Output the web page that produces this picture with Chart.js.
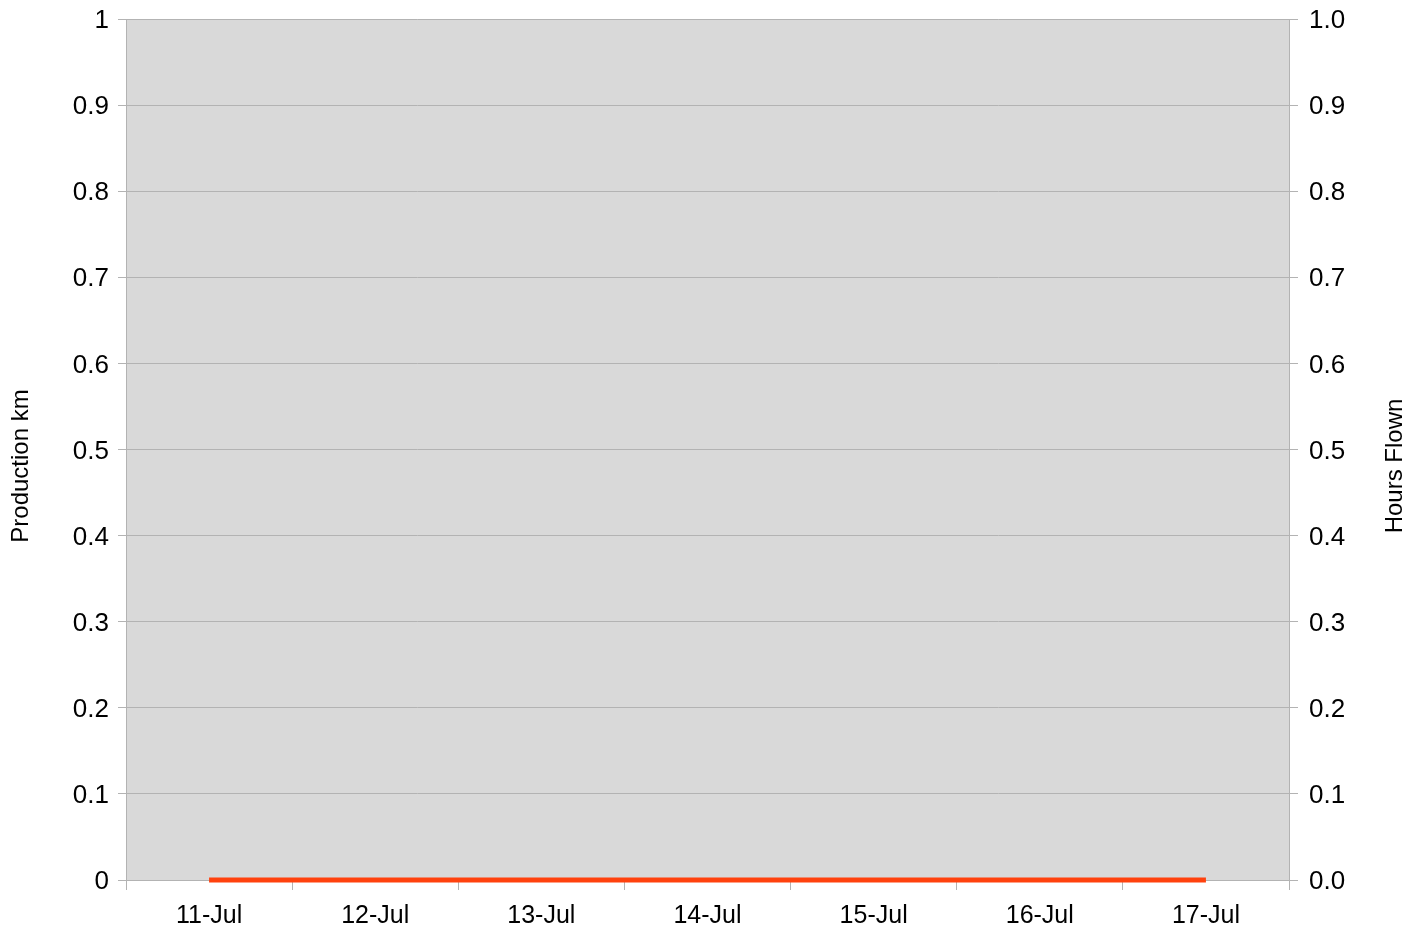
<!DOCTYPE html>
<html>
<head>
<meta charset="utf-8">
<script src="https://cdn.jsdelivr.net/npm/chart.js@4/dist/chart.umd.min.js"></script>
<style>
  html, body { margin: 0; padding: 0; background: #ffffff; }
  #wrap { width: 1424px; height: 928px; position: relative; }
</style>
</head>
<body>
<div id="wrap"><canvas id="chart"></canvas></div>
<script>
// Daily figures for the week
const days = ['11-Jul', '12-Jul', '13-Jul', '14-Jul', '15-Jul', '16-Jul', '17-Jul'];
const productionKm = [0, 0, 0, 0, 0, 0, 0];
const hoursFlown = [0, 0, 0, 0, 0, 0, 0];
const axisTicks = [0, 0.1, 0.2, 0.3, 0.4, 0.5, 0.6, 0.7, 0.8, 0.9, 1];
const leftTitle = 'Production km';
const rightTitle = 'Hours Flown';

const FONT = "'Liberation Sans', Arial, sans-serif";
const GRID = '#b3b3b3';

// Grey plot-area background
const plotBackground = {
  id: 'plotBackground',
  beforeDraw(chart) {
    const { ctx, chartArea: a } = chart;
    ctx.save();
    ctx.fillStyle = '#d9d9d9';
    ctx.fillRect(a.left, a.top, a.right - a.left, a.bottom - a.top);
    ctx.restore();
  }
};

// Both axis titles read bottom-to-top, centred on the canvas height
const axisTitles = {
  id: 'axisTitles',
  afterDraw(chart) {
    const { ctx, height } = chart;
    const yMid = height / 2 + 2;
    ctx.save();
    ctx.fillStyle = '#000';
    ctx.font = '24px ' + FONT;
    ctx.textAlign = 'center';
    ctx.textBaseline = 'middle';
    [[21, leftTitle], [1395, rightTitle]].forEach(([x, text]) => {
      ctx.save();
      ctx.translate(x, yMid);
      ctx.rotate(-Math.PI / 2);
      ctx.fillText(text, 0, 0);
      ctx.restore();
    });
    ctx.restore();
  }
};

// Fixed box sizes for the value axes, without extra label overhang padding
function fitValueAxis(width) {
  return s => {
    s.width = width;
    s.paddingTop = 0;
    s.paddingBottom = 0;
  };
}

new Chart(document.getElementById('chart'), {
  data: {
    labels: days,
    datasets: [
      {
        type: 'bar',
        label: leftTitle,
        data: productionKm,
        yAxisID: 'y',
        backgroundColor: '#004586',
        borderWidth: 0,
        order: 2
      },
      {
        type: 'line',
        label: rightTitle,
        data: hoursFlown,
        yAxisID: 'y1',
        borderColor: '#ff420e',
        backgroundColor: '#ff420e',
        borderWidth: 5,
        pointRadius: 0,
        tension: 0,
        clip: false,
        order: 1
      }
    ]
  },
  options: {
    responsive: true,
    maintainAspectRatio: false,
    animation: false,
    layout: { padding: { top: 19, left: 0, right: 0, bottom: 0 } },
    plugins: {
      legend: { display: false },
      tooltip: { enabled: false }
    },
    scales: {
      x: {
        offset: true,
        grid: {
          offset: true,
          drawOnChartArea: false,
          drawTicks: true,
          tickLength: 10,
          color: GRID
        },
        border: { color: GRID },
        ticks: { color: '#000', font: { family: FONT, size: 25 }, padding: 11, maxRotation: 0 },
        afterFit(s) { s.height = 48; s.paddingLeft = 0; s.paddingRight = 0; }
      },
      y: {
        position: 'left',
        min: 0,
        max: 1,
        afterBuildTicks(s) { s.ticks = axisTicks.map(v => ({ value: v })); },
        grid: { color: GRID, tickLength: 8 },
        border: { color: GRID },
        ticks: {
          color: '#000',
          font: { family: FONT, size: 26 },
          padding: 9,
          labelOffset: 2,
          callback: v => String(Math.round(v * 10) / 10)
        },
        afterFit: fitValueAxis(126)
      },
      y1: {
        position: 'right',
        min: 0,
        max: 1,
        afterBuildTicks(s) { s.ticks = axisTicks.map(v => ({ value: v })); },
        grid: { drawOnChartArea: false, color: GRID, tickLength: 9 },
        border: { color: GRID },
        ticks: {
          color: '#000',
          font: { family: FONT, size: 26 },
          padding: 11,
          labelOffset: 2,
          callback: v => (Math.round(v * 10) / 10).toFixed(1)
        },
        afterFit: fitValueAxis(135)
      }
    }
  },
  plugins: [plotBackground, axisTitles]
});
</script>
</body>
</html>
